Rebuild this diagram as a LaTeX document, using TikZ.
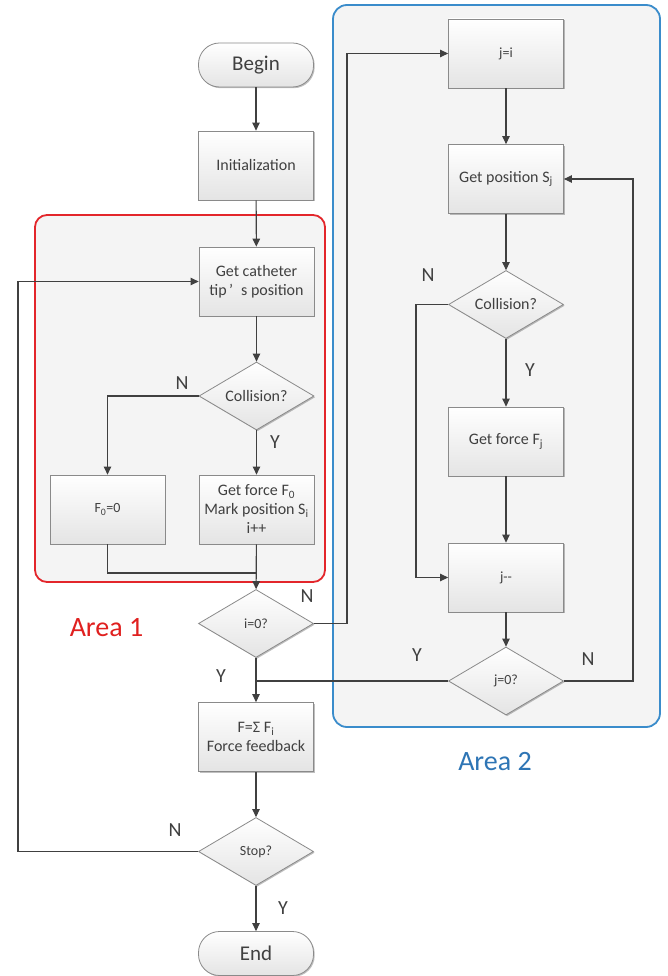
\documentclass[tikz,border=0pt]{standalone}
\usepackage{fontspec}
\setmainfont{Carlito}
\usetikzlibrary{shapes.geometric,arrows.meta,shadows}
\definecolor{txt}{HTML}{404040}
\definecolor{boxgray}{HTML}{8A8A8A}
\definecolor{boxbot}{HTML}{E4E4E4}
\definecolor{areabg}{HTML}{F4F4F4}
\definecolor{areared}{HTML}{E3262B}
\definecolor{areablue}{HTML}{3A8CCB}
\definecolor{labred}{HTML}{E0201F}
\definecolor{labblue}{HTML}{2E75B5}
\begin{document}
\begin{tikzpicture}[x=1pt,y=-1pt,
  shade/.style={top color=white, bottom color=boxbot,
    drop shadow={shadow xshift=1.2pt, shadow yshift=-1.2pt, opacity=0.25, fill=black}},
  proc/.style={shade, draw=boxgray, line width=0.8pt, minimum width=115pt,
    minimum height=69pt, inner sep=2pt, align=center, text=txt,
    font=\fontsize{16}{19}\selectfont},
  small/.style={font=\fontsize{14}{17}\selectfont},
  term/.style={shade, draw=boxgray, line width=0.8pt, rounded corners=21pt,
    minimum width=115pt, minimum height=44pt, inner sep=2pt, text=txt,
    font=\fontsize{21}{24}\selectfont},
  decide/.style={shade, shape=diamond, draw=boxgray, line width=0.8pt,
    minimum width=115pt, minimum height=68pt, inner sep=0pt, aspect=1.7,
    text=txt, font=\fontsize{16}{19}\selectfont},
  conn/.style={draw=txt, line width=1.1pt, -{Triangle[length=8pt,width=7.5pt]}},
  plain/.style={draw=txt, line width=1.1pt},
  lab/.style={text=txt, font=\fontsize{20}{20}\selectfont, inner sep=0pt},
  arealab/.style={font=\fontsize{28}{28}\selectfont, inner sep=0pt}
]
\useasboundingbox (0,0) rectangle (667,976);
\fill[white] (0,0) rectangle (667,976);

% areas
\draw[draw=areared, line width=1.8pt, rounded corners=12pt, fill=areabg]
  (35,215) rectangle (325,582);
\draw[draw=areablue, line width=1.8pt, rounded corners=14pt, fill=areabg]
  (333,5) rectangle (660,727);

% left column
\node[term] (begin) at (256,65) {Begin};
\node[proc] (init) at (256,165.5) {Initialization};
\node[proc] (cath) at (256.5,281.5) {Get catheter\\tip\hspace{0.15em}’\hspace{0.5em}s position};
\node[decide] (coll1) at (256.5,396) {Collision?};
\node[proc, small] (f00) at (107.5,509.5) {F\textsubscript{0}=0};
\node[proc] (gf0) at (256.5,509.5) {Get force F\textsubscript{0}\\Mark position S\textsubscript{i}\\i++};
\node[decide, small] (i0) at (256,623.5) {i=0?};
\node[proc] (fsig) at (256,737) {F=Σ F\textsubscript{i}\\Force feedback};
\node[decide, small] (stop) at (256,851.5) {Stop?};
\node[term] (end) at (256,953.5) {End};

% right column
\node[proc, small] (ji) at (506,53.5) {j=i};
\node[proc] (sj) at (506,179) {Get position S\textsubscript{j}};
\node[decide] (coll2) at (506,304.5) {Collision?};
\node[proc] (fj) at (506,441.5) {Get force F\textsubscript{j}};
\node[proc, small] (jmm) at (506,577.5) {j-{}-};
\node[decide, small] (j0) at (506,681) {j=0?};

% helper coordinates
\coordinate (m1) at (256.5,573);
\coordinate (jy) at (256,681);
\coordinate (back) at (18,851.5);
\coordinate (nr) at (347,623.5);
\coordinate (n2l) at (416,304.5);
\coordinate (n2r) at (633,681);

% connectors
\draw[conn] (begin) -- (init);
\draw[conn] (init) -- (cath);
\draw[conn] (cath) -- (coll1);
\draw[conn] (coll1.west) -| (f00.north);
\draw[conn] (coll1) -- (gf0);
\draw[plain] (f00.south) |- (m1);
\draw[conn] (gf0) -- (i0);
\draw[conn] (i0.east) -- (nr) |- (ji.west);
\draw[conn] (i0) -- (fsig);
\draw[plain] (j0.west) -- (jy);
\draw[conn] (fsig) -- (stop);
\draw[conn] (stop.west) -- (back) |- (cath.west);
\draw[conn] (stop) -- (end);
\draw[conn] (ji) -- (sj);
\draw[conn] (sj) -- (coll2);
\draw[conn] (coll2) -- (fj);
\draw[conn] (coll2.west) -- (n2l) |- (jmm.west);
\draw[conn] (fj) -- (jmm);
\draw[conn] (jmm) -- (j0);
\draw[conn] (j0.east) -- (n2r) |- (sj.east);

% labels
\node[lab] (l1) at (182,383) {N};
\node[lab] (l2) at (275,442) {Y};
\node[lab] (l3) at (307,596) {N};
\node[lab] (l4) at (221,676) {Y};
\node[lab] (l5) at (175,830) {N};
\node[lab] (l6) at (283,908) {Y};
\node[lab] (l7) at (428,275) {N};
\node[lab] (l8) at (530,370) {Y};
\node[lab] (l9) at (417,655) {Y};
\node[lab] (l10) at (588,659) {N};
\node[arealab, text=labred] (a1) at (106.5,628) {Area 1};
\node[arealab, text=labblue] (a2) at (495,762) {Area 2};
\end{tikzpicture}
\end{document}
